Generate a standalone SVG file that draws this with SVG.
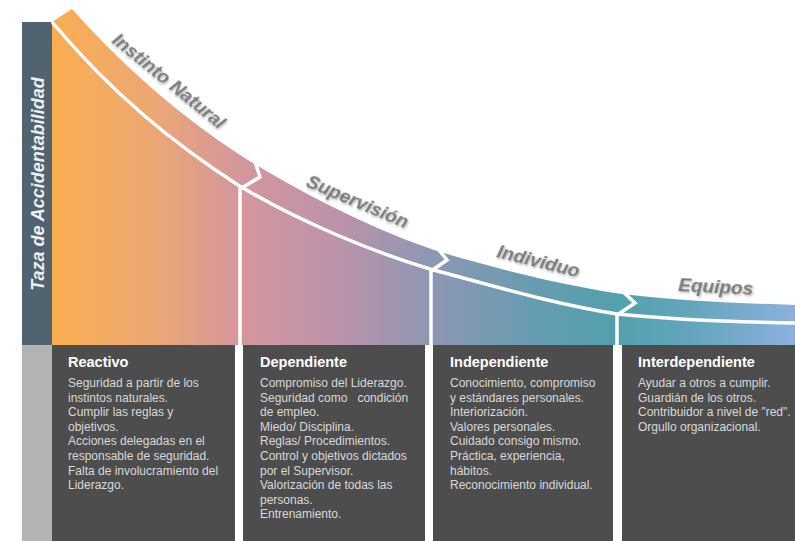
<svg xmlns="http://www.w3.org/2000/svg" width="795" height="541" viewBox="0 0 795 541">
<defs>
<linearGradient id="g" gradientUnits="userSpaceOnUse" x1="52" y1="0" x2="795" y2="0">
<stop offset="0" stop-color="#f9ae50"/>
<stop offset="0.13" stop-color="#eda872"/>
<stop offset="0.25" stop-color="#d5979c"/>
<stop offset="0.38" stop-color="#bd92aa"/>
<stop offset="0.51" stop-color="#8e97b2"/>
<stop offset="0.64" stop-color="#689cb0"/>
<stop offset="0.76" stop-color="#52a0ac"/>
<stop offset="0.86" stop-color="#64a5bd"/>
<stop offset="1" stop-color="#8cb0dc"/>
</linearGradient>
<filter id="sh" x="-10%" y="-30%" width="130%" height="170%">
<feDropShadow dx="1.2" dy="1.5" stdDeviation="1" flood-color="#888" flood-opacity="0.6"/>
</filter>
</defs>
<style>
.box{fill:#4d4d4d}
.sep{fill:none;stroke:#fff;stroke-width:3.5;stroke-linejoin:miter}
.ttl{font-family:"Liberation Sans",Arial,sans-serif;font-weight:bold;font-size:14.5px;fill:#fff}
.bd{font-family:"Liberation Sans",Arial,sans-serif;font-size:12px;fill:#d9d9d9}
.lbl{font-family:"Liberation Sans",Arial,sans-serif;font-weight:bold;font-style:italic;font-size:19px;fill:#7b7b7b;filter:url(#sh)}
</style>
<rect width="795" height="541" fill="#fff"/>

<g id="axis">
<rect x="22" y="22" width="30" height="323" fill="#526370"/>
<rect x="22" y="345" width="30" height="196" fill="#b3b3b3"/>
<text transform="translate(44,184) rotate(-90)" text-anchor="middle" font-family="'Liberation Sans',Arial,sans-serif" font-weight="bold" font-style="italic" font-size="18" fill="#eef1f3">Taza de Accidentabilidad</text>
</g>

<g id="curve-area">
<path d="M52,22 L72,9 C132,76 191,124 251,162 C311,198 377,231 437,251 C497,269 562,285 622,294 C682,301 735,303 795,305 L795,345 L52,345 Z" fill="url(#g)"/>
</g>

<g id="connectors">
<path class="sep" d="M52,22 C114,96 176,145 238,185 C298,221 370,251 430,269 C490,285 557,305 617,314 C677,320 735,322 795,323"/>
<path class="sep" d="M253,156 L260,177 L240,189 L240,345"/>
<path class="sep" d="M435,245 L447,260 L431,271 L431,345"/>
<path class="sep" d="M619,288 L635,303 L617,315 L617,345"/>
</g>

<g id="stage-instinto">
<text class="lbl" transform="translate(111,42) rotate(39)">Instinto Natural</text>
</g>
<g id="stage-supervision">
<text class="lbl" transform="translate(305,186) rotate(23)">Supervisión</text>
</g>
<g id="stage-individuo">
<text class="lbl" transform="translate(496,257) rotate(14)">Individuo</text>
</g>
<g id="stage-equipos">
<text class="lbl" transform="translate(678,291) rotate(3)">Equipos</text>
</g>

<g id="box-reactivo">
<rect class="box" x="52" y="345" width="183" height="196"/>
<text class="ttl" x="68" y="367">Reactivo</text>
<text class="bd">
<tspan x="68" y="387">Seguridad a partir de los</tspan>
<tspan x="68" dy="14.6">instintos naturales.</tspan>
<tspan x="68" dy="14.6">Cumplir las reglas y</tspan>
<tspan x="68" dy="14.6">objetivos.</tspan>
<tspan x="68" dy="14.6">Acciones delegadas en el</tspan>
<tspan x="68" dy="14.6">responsable de seguridad.</tspan>
<tspan x="68" dy="14.6">Falta de involucramiento del</tspan>
<tspan x="68" dy="14.6">Liderazgo.</tspan>
</text>
</g>

<g id="box-dependiente">
<rect class="box" x="243" y="345" width="182" height="196"/>
<text class="ttl" x="260" y="367">Dependiente</text>
<text class="bd" style="white-space:pre">
<tspan x="260" y="387">Compromiso del Liderazgo.</tspan>
<tspan x="260" dy="14.6">Seguridad como   condición</tspan>
<tspan x="260" dy="14.6">de empleo.</tspan>
<tspan x="260" dy="14.6">Miedo/ Disciplina.</tspan>
<tspan x="260" dy="14.6">Reglas/ Procedimientos.</tspan>
<tspan x="260" dy="14.6">Control y objetivos dictados</tspan>
<tspan x="260" dy="14.6">por el Supervisor.</tspan>
<tspan x="260" dy="14.6">Valorización de todas las</tspan>
<tspan x="260" dy="14.6">personas.</tspan>
<tspan x="260" dy="14.6">Entrenamiento.</tspan>
</text>
</g>

<g id="box-independiente">
<rect class="box" x="433" y="345" width="180" height="196"/>
<text class="ttl" x="450" y="367">Independiente</text>
<text class="bd">
<tspan x="450" y="387">Conocimiento, compromiso</tspan>
<tspan x="450" dy="14.6">y estándares personales.</tspan>
<tspan x="450" dy="14.6">Interiorización.</tspan>
<tspan x="450" dy="14.6">Valores personales.</tspan>
<tspan x="450" dy="14.6">Cuidado consigo mismo.</tspan>
<tspan x="450" dy="14.6">Práctica, experiencia,</tspan>
<tspan x="450" dy="14.6">hábitos.</tspan>
<tspan x="450" dy="14.6">Reconocimiento individual.</tspan>
</text>
</g>

<g id="box-interdependiente">
<rect class="box" x="622" y="345" width="173" height="196"/>
<text class="ttl" x="638" y="367">Interdependiente</text>
<text class="bd">
<tspan x="638" y="387">Ayudar a otros a cumplir.</tspan>
<tspan x="638" dy="14.6">Guardián de los otros.</tspan>
<tspan x="638" dy="14.6">Contribuidor a nivel de "red".</tspan>
<tspan x="638" dy="14.6">Orgullo organizacional.</tspan>
</text>
</g>
</svg>
